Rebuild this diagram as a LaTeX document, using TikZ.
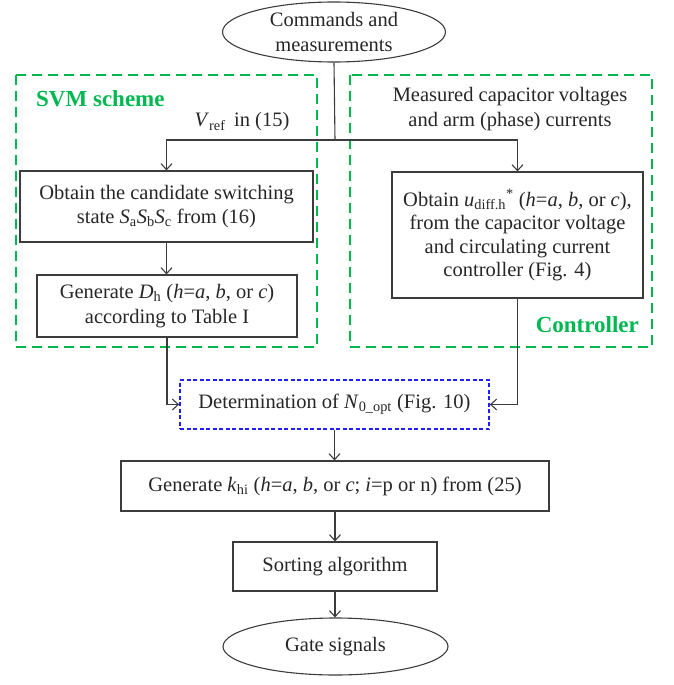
\documentclass[tikz,border=0pt]{standalone}
\usepackage{fontspec}
\setmainfont{Liberation Serif}
\usetikzlibrary{shapes.geometric,arrows.meta}
\definecolor{grn}{RGB}{0,184,80}
\definecolor{blu}{RGB}{30,30,255}
\definecolor{ln}{RGB}{60,60,60}
\tikzset{
  txt/.style={font=\fontsize{20.5}{24.5}\selectfont, align=center, inner sep=0pt, text=black!85},
  box/.style={txt, draw=ln, line width=1.1pt, rectangle},
  oval/.style={txt, draw=ln, line width=1.1pt, ellipse},
  grp/.style={draw=grn, line width=2.2pt, dash pattern=on 10pt off 6pt},
  glabel/.style={font=\fontsize{23}{27}\selectfont\bfseries, text=grn, inner sep=0pt},
  conn/.style={draw=ln, line width=1.1pt},
  arr/.style={conn, -{Straight Barb[length=6pt,width=11pt]}},
}
\newcommand{\sub}[1]{\textsubscript{#1}}
\begin{document}
\begin{tikzpicture}[x=1pt,y=-1pt]
\useasboundingbox (0,0) rectangle (674,685);
% groups
\draw[grp] (16,75) rectangle (317,347);
\draw[grp] (350,75) rectangle (652,347);
\node[glabel, anchor=west] (svmlab) at (36,99) {SVM scheme};
\node[glabel, anchor=east] (ctrllab) at (639,325) {Controller};
% nodes
\node[oval, minimum width=223pt, minimum height=60pt] (cmd) at (334,32) {Commands and\\measurements};
\node[txt] (vref) at (242,122) {\textit{V}\sub{ref}\,\ in (15)};
\node[txt] (meas) at (510,109) {Measured capacitor voltages\\and arm (phase) currents};
\node[box, minimum width=293pt, minimum height=71pt] (b1) at (166.5,206.5) {Obtain the candidate switching\\state \textit{S}\sub{a}\textit{S}\sub{b}\textit{S}\sub{c} from (16)};
\node[box, minimum width=260pt, minimum height=62pt] (b2) at (167,306) {Generate \textit{D}\sub{h} (\textit{h}=\textit{a}, \textit{b}, or \textit{c})\\according to Table I};
\node[box, minimum width=251pt, minimum height=126pt, font=\fontsize{20.5}{23.5}\selectfont] (rb) at (517.5,235) {Obtain \textit{u}\sub{diff.h}\textsuperscript{*} (\textit{h}=\textit{a}, \textit{b}, or \textit{c}),\\from the capacitor voltage\\and circulating current\\controller (Fig. 4)};
\node[txt, draw=blu, line width=1.8pt, dash pattern=on 4pt off 2.5pt, minimum width=309pt, minimum height=49pt] (det) at (334.5,404.5) {Determination of \textit{N}\sub{0\_opt} (Fig. 10)};
\node[box, minimum width=428pt, minimum height=50pt] (gk) at (335,486) {Generate \textit{k}\sub{hi} (\textit{h}=\textit{a}, \textit{b}, or \textit{c}; \textit{i}=p or n) from (25)};
\node[box, minimum width=204pt, minimum height=49pt] (sort) at (335,566.5) {Sorting algorithm};
\node[oval, minimum width=225pt, minimum height=57pt] (gate) at (335.5,646.5) {Gate signals};
% connectors
\coordinate (split) at (335,140);
\draw[conn] (cmd.south) -- (split);
\draw[arr] (split) -| (b1.north);
\draw[arr] (split) -| (rb.north);
\draw[arr] (b1.south) -- (b1.south |- b2.north);
\draw[arr] (b2.south) |- (det.west);
\draw[arr] (rb.south) |- (det.east);
\draw[arr] (det.south) -- (det.south |- gk.north);
\draw[arr] (gk.south) -- (gk.south |- sort.north);
\draw[arr] (sort.south) -- (sort.south |- gate.north);
\end{tikzpicture}
\end{document}
